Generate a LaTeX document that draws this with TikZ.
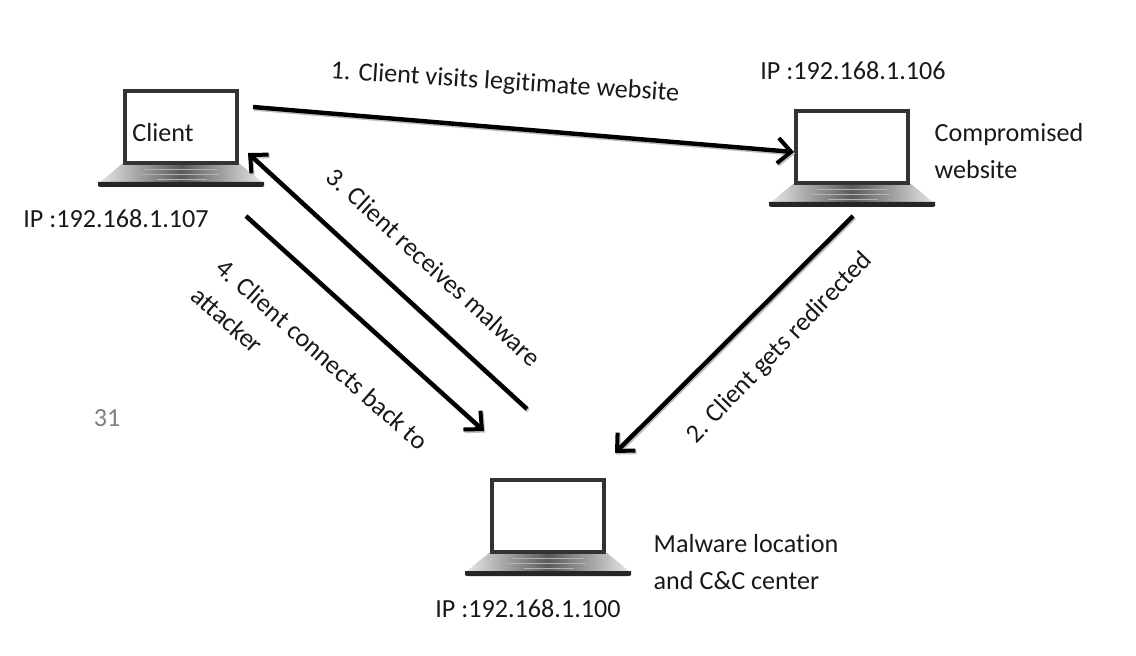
\documentclass[tikz,border=0pt]{standalone}
\usepackage{fontspec}
\setmainfont[Ligatures = NoCommon]{Carlito}
\usetikzlibrary{arrows.meta}
\tikzset{
label text/.style = { font = \fontsize{19.6}{27.8}\selectfont, text = black!90, inner sep = 0pt, align = left },
flow/.style = { draw = black, line width = 3.3pt, -{Straight Barb[length = 10pt, width = 19pt, line width = 3pt]},
    preaction = { draw = black!25, line width = 3.3pt, transform canvas = { shift = { (0.9pt, -1.2pt) } } } },
pics/laptop/.style = {
        code = {
        % base first, screen goes on top of it
        \path[left color = black!10, right color = black!10, middle color = black!65] (-59, 37) -- (59, 37) -- (81, 55) -- (-81, 55) -- cycle;
        \path[fill = black!85] (-83, 55) -- (83, 55) -- (83, 59) -- (81, 60) -- (-81, 60) -- (-83, 59) -- cycle;
        \draw[black!30, line width = 0.6pt] (-36, 42) -- (36, 42) (-24, 52) -- (26, 52) (-40, 47) -- (38, 47);
        \node[rectangle, draw = black!80, fill = white, line width = 2.4pt, minimum width = 84pt, minimum height = 54pt, inner sep = 0pt] at (0, 0) {};
        }
    }
}
\begin{document}
\begin{tikzpicture}[x = 0.75pt, y = -0.75pt]
    \useasboundingbox (0, 0) rectangle (1136, 656);
    \path[fill = white] (0, 0) rectangle (1136, 656);
    \draw (181, 127) pic{laptop};
    \draw (852, 147) pic{laptop};
    \draw (548, 516) pic{laptop};
    % arrow ends
    \coordinate (client out) at (253, 107);
    \coordinate (site in) at (794, 152);
    \coordinate (site out) at (853, 216);
    \coordinate (malware in) at (615, 453);
    \coordinate (malware out) at (527, 409);
    \coordinate (client in) at (248, 153);
    \coordinate (client back) at (246, 216);
    \coordinate (malware back) at (484, 431);
    \draw[flow] (client out) -- (site in);
    \draw[flow] (site out) -- (malware in);
    \draw[flow] (malware out) -- (client in);
    \draw[flow] (client back) -- (malware back);
    \node[label text] (client name) at (163, 133) {Client};
    \node[label text] (client ip) at (116, 219) {IP :192.168.1.107};
    \node[label text] (site ip) at (853, 71) {IP :192.168.1.106};
    \node[label text] (site name) at (1009, 151) {Compromised\\website};
    \node[label text] (malware name) at (746, 562) {Malware location\\and C\&C center};
    \node[label text] (malware ip) at (528, 609) {IP :192.168.1.100};
    \node[label text, rotate = -3.8] (step one) at (505, 83) {1. Client visits legitimate website};
    \node[label text, rotate = 46] (step two) at (780, 348) {2. Client gets redirected};
    \node[label text, rotate = -42.5] (step three) at (434, 267) {3. Client receives malware};
    \node[label text, rotate = -41.5] (step four) at (310, 368) {4. Client connects back to\\attacker};
    \node[label text, text = black!50] (page number) at (107, 418) {31};
\end{tikzpicture}
\end{document}
